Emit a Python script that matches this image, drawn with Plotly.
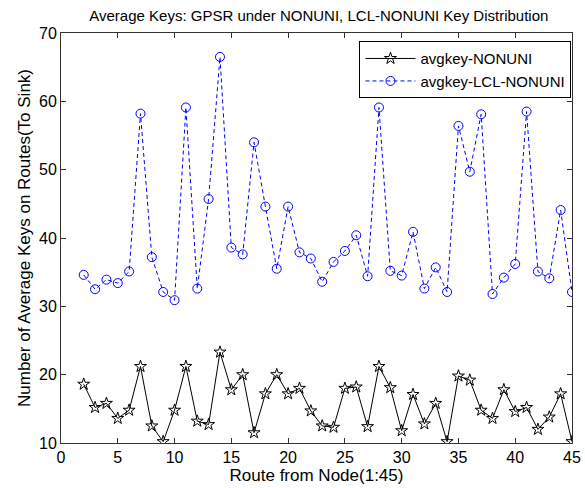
import plotly.graph_objects as go

routes = list(range(2, 46))
avgkey_nonuni = [18.6, 15.2, 15.8, 13.6, 14.8, 21.2, 12.5, 10.2, 14.8, 21.2,
                 13.2, 12.7, 23.3, 17.8, 20.0, 11.5, 17.2, 20.0, 17.2, 18.0,
                 14.7, 12.5, 12.3, 18.0, 18.2, 12.4, 21.2, 18.1, 11.8, 17.1,
                 12.8, 15.8, 10.2, 19.8, 19.2, 14.8, 13.6, 17.8, 14.6, 15.2,
                 12.0, 13.8, 17.2, 10.2]
avgkey_lcl_nonuni = [34.6, 32.5, 33.9, 33.4, 35.1, 58.2, 37.2, 32.1, 30.9, 59.1,
                     32.6, 45.7, 66.5, 38.6, 37.6, 54.0, 44.6, 35.5, 44.6, 37.9,
                     37.0, 33.6, 36.5, 38.1, 40.4, 34.4, 59.1, 35.2, 34.5, 40.9,
                     32.6, 35.7, 32.1, 56.4, 49.7, 58.1, 31.8, 34.2, 36.2, 58.5,
                     35.1, 34.1, 44.1, 32.1]
x_ticks = [0, 5, 10, 15, 20, 25, 30, 35, 40, 45]
y_ticks = [10, 20, 30, 40, 50, 60, 70]

FONT = "Arial, Liberation Sans"

fig = go.Figure()
fig.add_trace(go.Scatter(
    x=routes, y=avgkey_nonuni, name="avgkey-NONUNI",
    mode="lines+markers",
    line=dict(color="black", width=1),
    marker=dict(symbol="star-open", size=9, color="black", line=dict(width=1)),
))
fig.add_trace(go.Scatter(
    x=routes, y=avgkey_lcl_nonuni, name="avgkey-LCL-NONUNI",
    mode="lines+markers",
    line=dict(color="#0000ff", width=1, dash="4px,3px"),
    marker=dict(symbol="circle-open", size=9, color="#0000ff", line=dict(width=1)),
))

axis_common = dict(
    showline=True, linecolor="#333333", linewidth=1, mirror="allticks",
    ticks="inside", ticklen=5, tickcolor="#333333",
    showgrid=False, zeroline=False,
    tickfont=dict(family=FONT, size=16, color="black"),
)

fig.update_layout(
    width=585, height=488,
    margin=dict(l=61, r=4, t=33, b=45),
    paper_bgcolor="white", plot_bgcolor="white",
    title=dict(text="Average Keys: GPSR under NONUNI, LCL-NONUNI Key Distribution",
               x=0.545, xanchor="center", y=0.967, yanchor="middle",
               font=dict(family=FONT, size=15, color="black")),
    xaxis=dict(range=[0, 45], tickvals=x_ticks, ticklabeloverflow="allow",
               title=dict(text="Route from Node(1:45)", standoff=2,
                          font=dict(family=FONT, size=17, color="black")),
               **axis_common),
    yaxis=dict(range=[10, 70], tickvals=y_ticks, ticklabeloverflow="allow",
               title=dict(text="Number of Average Keys on Routes(To Sink)", standoff=4,
                          font=dict(family=FONT, size=17, color="black")),
               **axis_common),
    legend=dict(x=0.999, xanchor="right", y=0.98, yanchor="top",
                bgcolor="white", bordercolor="black", borderwidth=1,
                font=dict(family=FONT, size=15, color="black"),
                itemwidth=50),
    showlegend=True,
)

fig.write_html("out.html")
